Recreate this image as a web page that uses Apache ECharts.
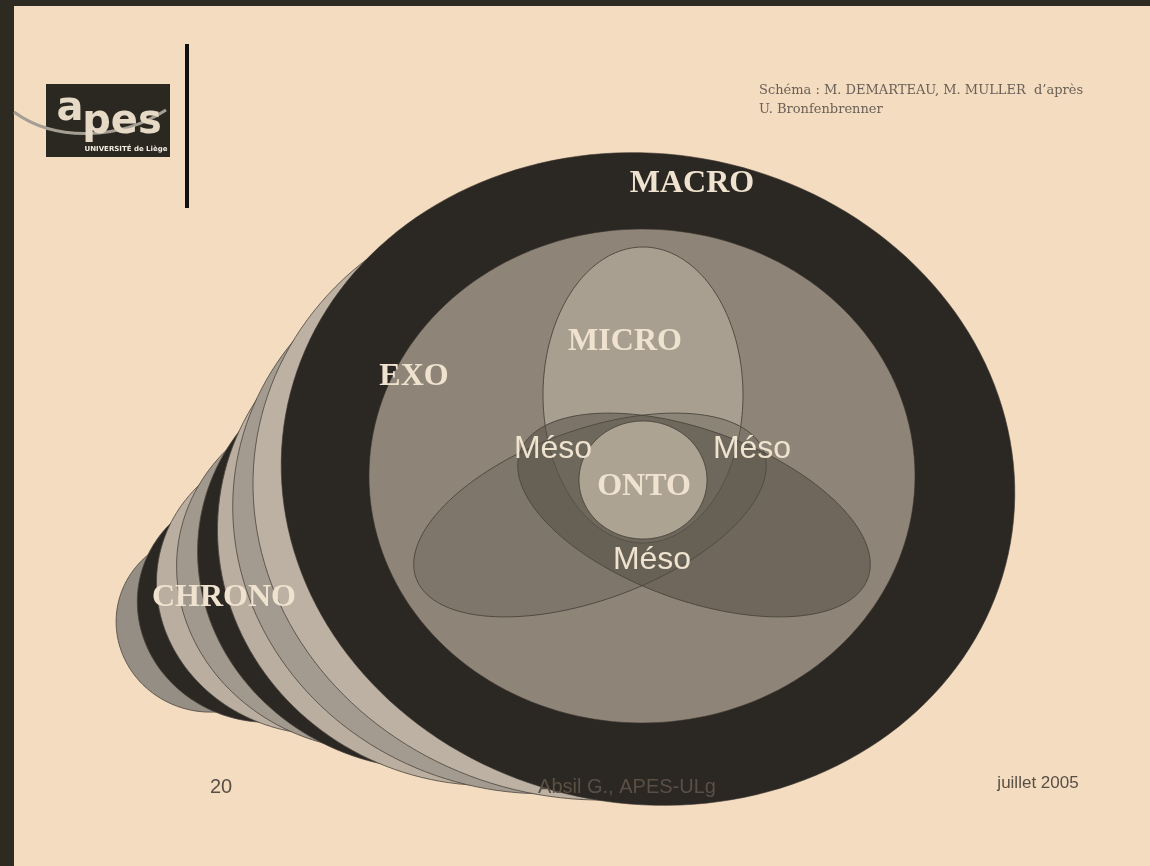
<!DOCTYPE html>
<html>
<head>
<meta charset="utf-8">
<title>Modèle écologique</title>
<script src="https://cdn.jsdelivr.net/npm/echarts@6/dist/echarts.min.js"></script>
<style>
  html, body { margin: 0; padding: 0; background: #f3dcc0; }
  #chart { width: 1150px; height: 866px; }
</style>
</head>
<body>
<div id="chart"></div>
<script>
// chrono copies of the macro ellipse, shrinking toward the lower left, back to front
var chronoX = [209, 264, 318, 373, 428, 483, 535, 590];
var chronoY = [623, 605, 588, 573, 558, 535, 515, 495];
var chronoRx = [93, 127, 162, 197, 231, 266, 303, 338];
var chronoRy = [89, 117, 146, 177, 211, 250, 278, 304];
var chronoTilt = [-10, -10, -10, -10, -10, -10, -10, -10];

// macro and exo
var ringNames = ['MACRO', 'EXO'];
var ringX = [648, 642];
var ringY = [479, 476];
var ringRx = [368, 273];
var ringRy = [325, 247];
var ringTilt = [-10, 0];

// micro (top) and the two lower meso ellipses
var mesoNames = ['MICRO', 'gauche', 'droite'];
var mesoX = [643, 590, 694];
var mesoY = [395, 515, 515];
var mesoRx = [100, 185, 185];
var mesoRy = [148, 85, 85];
var mesoTilt = [0, 20, -20];

// onto
var ontoX = [643];
var ontoY = [480];
var ontoRx = [64];
var ontoRy = [59];

// labels
var labelText = ['MACRO', 'MICRO', 'EXO', 'ONTO', 'CHRONO', 'Méso', 'Méso', 'Méso'];
var labelX = [692, 625, 414, 644, 224, 553, 752, 652];
var labelY = [184, 342, 377, 487, 598, 449, 449, 560];
var labelSerif = [true, true, true, true, true, false, false, false];

var chronoColors = ['#958e84', '#2b2722', '#b9ae9f', '#a1998e', '#2b2722', '#b9ae9f', '#a39b90', '#bcb1a2'];
var ringColors = ['#2b2722', '#8e8578'];
var mesoColors = ['rgba(190,180,164,0.55)', 'rgba(106,100,89,0.45)', 'rgba(80,73,64,0.5)'];

function zip(xs, ys, rxs, rys, tilts) {
  return xs.map(function (x, i) {
    return [x, ys[i], rxs[i], rys[i], tilts ? tilts[i] : 0];
  });
}

function ellipse(colors, stroke, lw) {
  return function (params, api) {
    var cx = api.value(0), cy = api.value(1), rx = api.value(2), ry = api.value(3);
    var rad = api.value(4) * Math.PI / 180, c = Math.cos(rad), s = Math.sin(rad);
    var pts = [];
    for (var i = 0; i < 180; i++) {
      var t = i / 180 * Math.PI * 2;
      var ex = rx * Math.cos(t), ey = ry * Math.sin(t);
      pts.push(api.coord([cx + ex * c + ey * s, cy - ex * s + ey * c]));
    }
    return {
      type: 'polygon',
      shape: { points: pts },
      style: { fill: colors[params.dataIndex], stroke: stroke, lineWidth: lw }
    };
  };
}

var chart = echarts.init(document.getElementById('chart'));

chart.setOption({
  backgroundColor: '#f3dcc0',
  animation: false,
  grid: { left: 0, right: 0, top: 0, bottom: 0 },
  xAxis: { type: 'value', min: 0, max: 1150, show: false },
  yAxis: { type: 'value', min: 0, max: 866, inverse: true, show: false },
  graphic: [
    { type: 'rect', shape: { x: 0, y: 0, width: 14, height: 866 }, style: { fill: '#2d2a22' }, z: 10 },
    { type: 'rect', shape: { x: 0, y: 0, width: 1150, height: 6 }, style: { fill: '#2d2a22' }, z: 10 },
    // logo
    { type: 'rect', shape: { x: 46, y: 84, width: 124, height: 73 }, style: { fill: '#2b2822' }, z: 10 },
    { type: 'bezierCurve', shape: { x1: 14, y1: 112, cpx1: 55, cpy1: 142, cpx2: 120, cpy2: 140, x2: 166, y2: 110 },
      style: { stroke: '#a59e93', lineWidth: 3, fill: null }, z: 11 },
    { type: 'text', style: { text: 'a', x: 70, y: 110, font: 'bold 40px "DejaVu Sans"', fill: '#e6d9c6', align: 'center', verticalAlign: 'middle' }, z: 12 },
    { type: 'text', style: { text: 'pes', x: 122, y: 123, font: 'bold 40px "DejaVu Sans"', fill: '#e6d9c6', align: 'center', verticalAlign: 'middle' }, z: 12 },
    { type: 'text', style: { text: 'UNIVERSITÉ de Liège', x: 126, y: 149, font: 'bold 7px "DejaVu Sans"', fill: '#f3ece0', align: 'center', verticalAlign: 'middle' }, z: 12 },
    { type: 'rect', shape: { x: 185, y: 44, width: 4, height: 164 }, style: { fill: '#111' }, z: 10 },
    // credit
    { type: 'text', style: { text: 'Schéma : M. DEMARTEAU, M. MULLER  d’après', x: 759, y: 91, font: '13px "DejaVu Serif"', fill: '#6b6057', verticalAlign: 'middle' }, z: 10 },
    { type: 'text', style: { text: 'U. Bronfenbrenner', x: 759, y: 110, font: '13px "DejaVu Serif"', fill: '#6b6057', verticalAlign: 'middle' }, z: 10 },
    // footer
    { type: 'text', style: { text: '20', x: 221, y: 787, font: '20px "Liberation Sans"', fill: '#5a4f45', align: 'center', verticalAlign: 'middle' }, z: 10 },
    { type: 'text', style: { text: 'Absil G., APES-ULg', x: 627, y: 787, font: '20px "Liberation Sans"', fill: '#5a4f45', align: 'center', verticalAlign: 'middle' }, z: 10 },
    { type: 'text', style: { text: 'juillet 2005', x: 1038, y: 783, font: '17px "Liberation Sans"', fill: '#5a4f45', align: 'center', verticalAlign: 'middle' }, z: 10 }
  ],
  series: [
    {
      name: 'CHRONO', type: 'custom', z: 2,
      data: zip(chronoX, chronoY, chronoRx, chronoRy, chronoTilt),
      renderItem: ellipse(chronoColors, '#4b443c', 0.8)
    },
    {
      name: 'MACRO-EXO', type: 'custom', z: 3,
      data: zip(ringX, ringY, ringRx, ringRy, ringTilt),
      renderItem: ellipse(ringColors, '#3a342e', 0.6)
    },
    {
      name: 'MESO', type: 'custom', z: 4,
      data: zip(mesoX, mesoY, mesoRx, mesoRy, mesoTilt),
      renderItem: ellipse(mesoColors, '#4b443c', 0.9)
    },
    {
      name: 'ONTO', type: 'custom', z: 5,
      data: zip(ontoX, ontoY, ontoRx, ontoRy),
      renderItem: ellipse(['#ada393'], '#4b443c', 0.9)
    },
    {
      name: 'labels', type: 'custom', z: 6,
      data: labelX.map(function (x, i) { return [x, labelY[i]]; }),
      renderItem: function (params, api) {
        var p = api.coord([api.value(0), api.value(1)]);
        var i = params.dataIndex;
        return {
          type: 'text',
          style: {
            text: labelText[i], x: p[0], y: p[1],
            font: labelSerif[i] ? 'bold 32px "Liberation Serif"' : '32px "Liberation Sans"',
            fill: '#efe3cf', align: 'center', verticalAlign: 'middle'
          }
        };
      }
    }
  ]
});
</script>
</body>
</html>
